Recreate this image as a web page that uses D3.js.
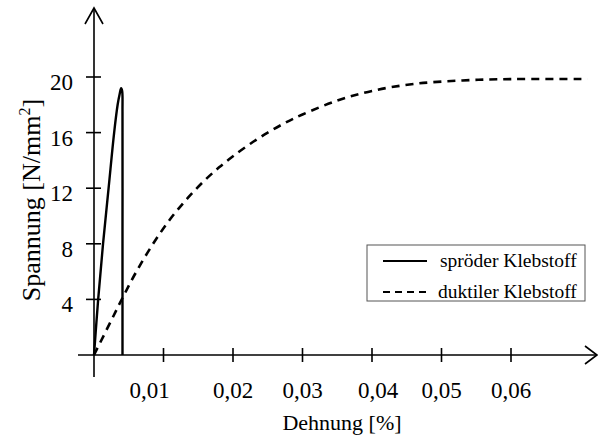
<!DOCTYPE html>
<html>
<head>
<meta charset="utf-8">
<script src="https://cdn.jsdelivr.net/npm/d3@7"></script>
<style>
  html, body { margin: 0; padding: 0; background: #fff; }
  svg { display: block; }
  text { font-family: "Liberation Serif", "Times New Roman", serif; fill: #000; }
</style>
</head>
<body>
<svg id="chart" width="598" height="438"></svg>
<script>
// Stress–strain curves of a brittle and a ductile adhesive
const xTicks = [0.01, 0.02, 0.03, 0.04, 0.05, 0.06];
const xTickLabels = ["0,01", "0,02", "0,03", "0,04", "0,05", "0,06"];
const yTicks = [4, 8, 12, 16, 20];
const yTickLabels = ["4", "8", "12", "16", "20"];

// brittle adhesive: strain [%], stress [N/mm²]
const sproedStrain = [0, 0.0006, 0.0013, 0.0021, 0.0029, 0.0034, 0.0037, 0.0039, 0.00405, 0.0041, 0.0041, 0.0041];
const sproedStress = [0, 4, 8, 12, 16, 18, 18.8, 19.2, 19.0, 17.5, 9, 0];

// ductile adhesive
const duktilStrain = [0, 0.0025, 0.0042, 0.0061, 0.0085, 0.011, 0.0135, 0.016, 0.018, 0.02, 0.0225, 0.025, 0.0275, 0.03, 0.035, 0.04, 0.046, 0.053, 0.06, 0.071];
const duktilStress = [0, 2.5, 4.2, 6.0, 8.0, 9.8, 11.3, 12.6, 13.5, 14.3, 15.2, 16.0, 16.7, 17.3, 18.3, 19.0, 19.5, 19.75, 19.85, 19.85];

const legendLabels = ["spröder Klebstoff", "duktiler Klebstoff"];

const svg = d3.select("#chart");
const x = d3.scaleLinear().domain([0, 0.06]).range([94, 511]);
const y = d3.scaleLinear().domain([0, 20]).range([355, 77]);
const x0 = x(0), y0 = y(0);

// small horizontal nudges for individual tick labels
const labelShift = { "0,01": -14, "0,04": 6 };

const axisColor = "#000";

// x axis line with open arrow
svg.append("line").attr("x1", 78).attr("x2", 597).attr("y1", y0).attr("y2", y0)
  .attr("stroke", axisColor).attr("stroke-width", 1.6);
svg.append("path").attr("d", `M585,${y0 - 9} L597,${y0} L585,${y0 + 9}`)
  .attr("fill", "none").attr("stroke", axisColor).attr("stroke-width", 1.6);

// y axis line with open arrow
svg.append("line").attr("x1", x0).attr("x2", x0).attr("y1", 377).attr("y2", 8)
  .attr("stroke", axisColor).attr("stroke-width", 1.6);
svg.append("path").attr("d", `M${x0 - 9},24 L${x0},8 L${x0 + 9},24`)
  .attr("fill", "none").attr("stroke", axisColor).attr("stroke-width", 1.6);

// x ticks
const xg = svg.append("g");
xTicks.forEach((t, i) => {
  xg.append("line").attr("x1", x(t)).attr("x2", x(t)).attr("y1", y0 - 7).attr("y2", y0 + 7)
    .attr("stroke", axisColor).attr("stroke-width", 1.6);
  xg.append("text").attr("x", x(t) + (labelShift[xTickLabels[i]] || 0)).attr("y", 398)
    .attr("text-anchor", "middle").attr("font-size", 23).text(xTickLabels[i]);
});

// y ticks
const yg = svg.append("g");
yTicks.forEach((t, i) => {
  yg.append("line").attr("x1", x0 - 8).attr("x2", x0 + 7).attr("y1", y(t)).attr("y2", y(t))
    .attr("stroke", axisColor).attr("stroke-width", 1.6);
  yg.append("text").attr("x", 73).attr("y", y(t) + 13)
    .attr("text-anchor", "end").attr("font-size", 23).text(yTickLabels[i]);
});

// axis titles
svg.append("text").attr("x", 342).attr("y", 430).attr("text-anchor", "middle")
  .attr("font-size", 22).text("Dehnung [%]");
const yt = svg.append("text").attr("transform", "translate(40,200) rotate(-90)")
  .attr("text-anchor", "middle").attr("font-size", 26);
yt.append("tspan").text("Spannung [N/mm");
yt.append("tspan").attr("font-size", 16).attr("dy", -10).text("2");
yt.append("tspan").attr("dy", 10).text("]");

// curves
const line = d3.line().x(d => x(d[0])).y(d => y(d[1]));
const sproed = d3.zip(sproedStrain, sproedStress);
const duktil = d3.zip(duktilStrain, duktilStress);

svg.append("path").datum(duktil)
  .attr("d", line.curve(d3.curveCatmullRom.alpha(0.5)))
  .attr("fill", "none").attr("stroke", "#000").attr("stroke-width", 2.6)
  .attr("stroke-dasharray", "8,6");

svg.append("path").datum(sproed)
  .attr("d", line.curve(d3.curveCatmullRom.alpha(0.5)))
  .attr("fill", "none").attr("stroke", "#000").attr("stroke-width", 2.4)
  .attr("stroke-linejoin", "round");

// legend
const lg = svg.append("g");
lg.append("rect").attr("x", 367).attr("y", 245).attr("width", 218).attr("height", 56)
  .attr("fill", "#fff").attr("stroke", "#555").attr("stroke-width", 1);
const dashes = [null, "7,5"];
legendLabels.forEach((lab, i) => {
  const ly = 261 + i * 31;
  lg.append("line").attr("x1", 383).attr("x2", 427).attr("y1", ly).attr("y2", ly)
    .attr("stroke", "#000").attr("stroke-width", 2)
    .attr("stroke-dasharray", dashes[i]);
  lg.append("text").attr("x", 438 + (i === 0 ? 2 : 0)).attr("y", ly + 6)
    .attr("font-size", 19.5).text(lab);
});
</script>
</body>
</html>
